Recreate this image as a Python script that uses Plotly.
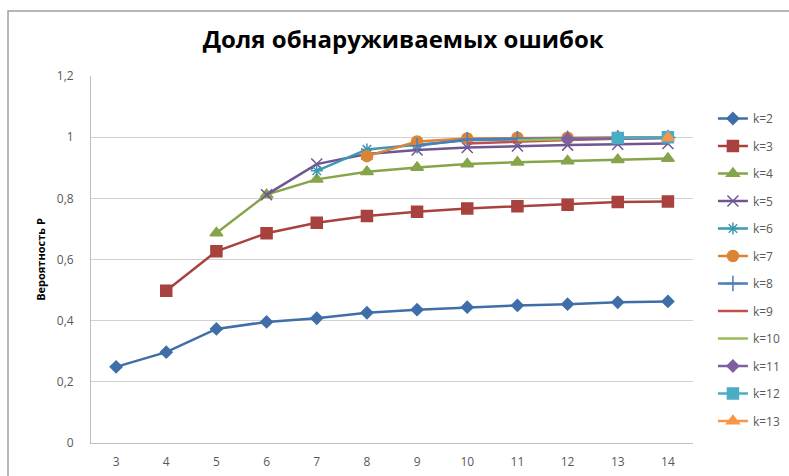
import plotly.graph_objects as go

n_values = [3, 4, 5, 6, 7, 8, 9, 10, 11, 12, 13, 14]
tick_vals_y = [0, 0.2, 0.4, 0.6, 0.8, 1.0, 1.2]
tick_text_y = ["0", "0,2", "0,4", "0,6", "0,8", "1", "1,2"]

k2 = [0.249, 0.297, 0.373, 0.396, 0.408, 0.426, 0.436, 0.444, 0.450, 0.454, 0.460, 0.463]
k3 = [None, 0.498, 0.627, 0.686, 0.720, 0.742, 0.756, 0.767, 0.774, 0.779, 0.788, 0.790]
k4 = [None, None, 0.687, 0.812, 0.862, 0.887, 0.901, 0.912, 0.918, 0.922, 0.926, 0.930]
k5 = [None, None, None, 0.812, 0.912, 0.945, 0.958, 0.966, 0.971, 0.974, 0.977, 0.979]
k6 = [None, None, None, None, 0.890, 0.960, 0.975, 0.990, 0.993, 0.995, 0.997, 0.998]
k7 = [None, None, None, None, None, 0.938, 0.986, 0.996, 0.998, 0.998, 0.999, 0.999]
k8 = [None, None, None, None, None, None, 0.972, 0.992, 0.995, 0.997, 0.998, 0.999]
k9 = [None, None, None, None, None, None, None, 0.979, 0.986, 0.991, 0.995, 0.997]
k10 = [None, None, None, None, None, None, None, None, 0.990, 0.994, 0.997, 0.998]
k11 = [None, None, None, None, None, None, None, None, None, 0.994, 0.997, 0.998]
k12 = [None, None, None, None, None, None, None, None, None, None, 0.997, 1.000]
k13 = [None, None, None, None, None, None, None, None, None, None, None, 0.998]

series_names = ["k=2", "k=3", "k=4", "k=5", "k=6", "k=7", "k=8", "k=9", "k=10", "k=11", "k=12", "k=13"]
series_values = [k2, k3, k4, k5, k6, k7, k8, k9, k10, k11, k12, k13]

colors = ["#3F6EA8", "#A8423F", "#86A44A", "#6F5592", "#3E98B2", "#DB8436",
          "#4A7EBB", "#C0504D", "#9BBB59", "#7D60A0", "#4BACC6", "#F79646"]
symbols = ["diamond", "square", "triangle-up", "x-thin-open", "asterisk-open", "circle",
           "cross-thin-open", None, None, "diamond", "square", "triangle-up"]
sizes = [9, 11, 11, 11, 10, 11, 11, 0, 0, 9, 11, 11]

fig = go.Figure()
for i, (name, vals) in enumerate(zip(series_names, series_values)):
    sym = symbols[i]
    mode = "lines+markers" if sym else "lines"
    marker = dict(color=colors[i], size=sizes[i], symbol=sym,
                  line=dict(color=colors[i], width=1.5)) if sym else None
    fig.add_trace(go.Scatter(
        x=n_values, y=vals, name=name, mode=mode,
        line=dict(color=colors[i], width=2.5),
        marker=marker, legendgroup=name,
    ))

fig.update_layout(
    width=789, height=476,
    margin=dict(l=91, r=96, t=76, b=33, autoexpand=False),
    paper_bgcolor="white", plot_bgcolor="white",
    font=dict(family="Open Sans", color="#595959", size=12),
    title=dict(text="<b>Доля обнаруживаемых ошибок</b>", x=0.511, xanchor="center",
               y=0.9174, yanchor="middle",
               font=dict(family="Open Sans", size=24, color="#000000")),
    legend=dict(x=1.0331, xanchor="left", y=0.9237, yanchor="top",
                traceorder="grouped", tracegroupgap=8.5,
                font=dict(size=12, color="#595959"), bgcolor="rgba(0,0,0,0)"),
    showlegend=True,
)
fig.update_xaxes(type="category", range=[-0.5, 11.5], showgrid=False,
                 showline=True, linecolor="#BFBFBF", linewidth=1, automargin=False,
                 ticks="", ticklabelstandoff=8, tickfont=dict(size=12, color="#595959"))
fig.update_yaxes(range=[0, 1.2], tickvals=tick_vals_y, ticktext=tick_text_y,
                 showgrid=True, gridcolor="#D0D0D0", gridwidth=1, automargin=False,
                 showline=True, linecolor="#BFBFBF", linewidth=1, zeroline=False,
                 ticks="", ticklabelstandoff=14, tickfont=dict(size=12, color="#595959"),
                 title=dict(text="<b>Вероятность P</b>", standoff=8,
                            font=dict(size=11, color="#000000")))

# chart-area border
fig.add_shape(type="rect", xref="paper", yref="paper",
              x0=(8 - 91) / 602, x1=(800 - 91) / 602,
              y0=(443 - 490) / 367, y1=(443 - 11) / 367,
              line=dict(color="#A0A0A0", width=1.5), fillcolor="rgba(0,0,0,0)", layer="above")

fig.write_html("out.html", config={"displayModeBar": False},
               post_script="document.body.style.margin='0';document.body.style.overflow='hidden';")
